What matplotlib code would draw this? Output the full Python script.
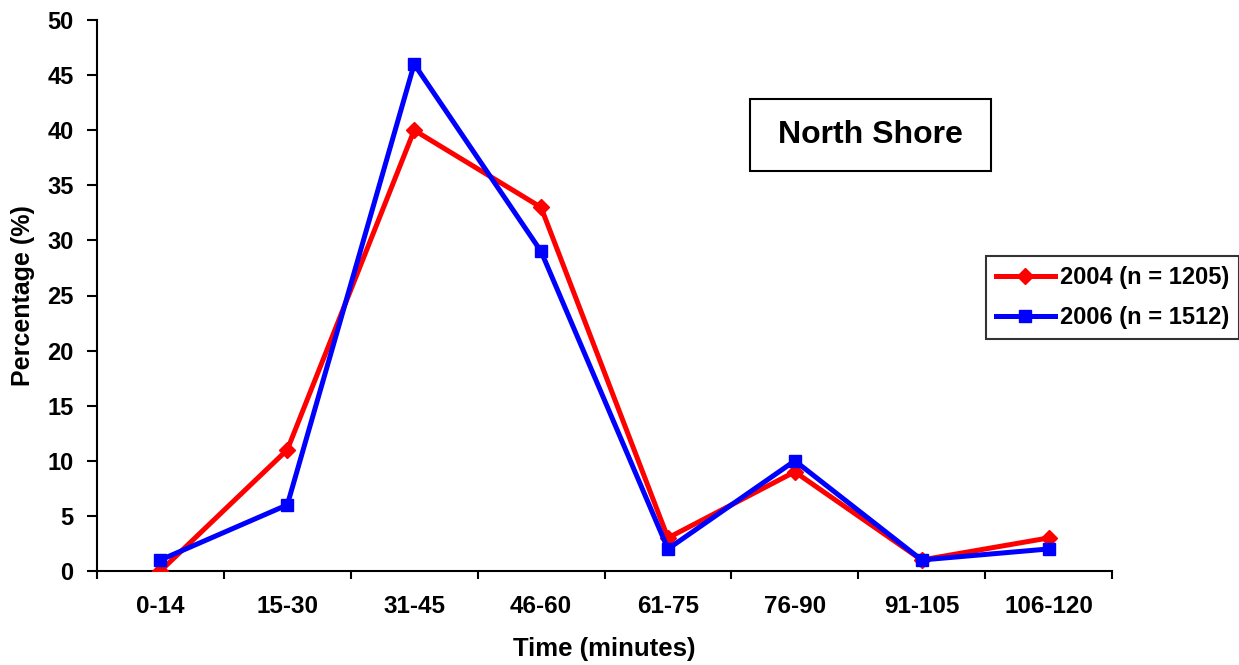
import matplotlib
matplotlib.use("Agg")
import matplotlib.pyplot as plt
from matplotlib.patches import Rectangle

categories = ["0-14", "15-30", "31-45", "46-60", "61-75", "76-90", "91-105", "106-120"]
pct_2004 = [0, 11, 40, 33, 3, 9, 1, 3]
pct_2006 = [1, 6, 46, 29, 2, 10, 1, 2]
label_2004 = "2004 (n = 1205)"
label_2006 = "2006 (n = 1512)"

plt.rcParams['font.family'] = ['Liberation Sans', 'DejaVu Sans']
plt.rcParams['font.weight'] = 'bold'

W, H = 1239, 665
fig = plt.figure(figsize=(W / 100, H / 100), dpi=100)
ax = fig.add_axes([97 / W, 1 - 571 / H, (1112 - 97) / W, (571 - 20) / H])

x = list(range(len(categories)))
ax.plot(x, pct_2004, color='#ff0000', lw=3.6, marker='D', ms=8, label=label_2004, zorder=3)
ax.plot(x, pct_2006, color='#0000ff', lw=3.6, marker='s', ms=8, label=label_2006, zorder=3)

ax.set_xlim(-0.5, 7.5)
ax.set_ylim(0, 50)
ax.set_yticks(range(0, 51, 5))
ax.set_xticks([i - 0.5 for i in range(9)])
ax.set_xticklabels([])
ax.set_xticks(x, minor=True)
ax.set_xticklabels(categories, minor=True)
ax.tick_params(axis='x', which='minor', length=0, pad=17, labelsize=17.5)
ax.tick_params(axis='x', which='major', length=6, width=1.5, direction='out')
ax.tick_params(axis='y', length=7, width=1.5, direction='out', labelsize=17, pad=10)
for lbl in ax.get_xticklabels(minor=True) + ax.get_yticklabels():
    lbl.set_fontweight('bold')

for s in ['top', 'right']:
    ax.spines[s].set_visible(False)
for s in ['left', 'bottom']:
    ax.spines[s].set_linewidth(1.5)

ax.set_xlabel("Time (minutes)", fontsize=18.5, fontweight='bold', labelpad=14)
ax.set_ylabel("Percentage (%)", fontsize=18, fontweight='bold', labelpad=9)

# title box
fig.patches.append(Rectangle((750 / W, 1 - 171 / H), 241 / W, 72 / H, transform=fig.transFigure,
                             fc='white', ec='black', lw=1.5, zorder=5))
fig.text(870.5 / W, 1 - 135 / H, "North Shore", ha='center', va='center', fontsize=23,
         fontweight='bold', zorder=6)

leg = fig.legend(loc='upper left', bbox_to_anchor=(986 / W, 1 - 256 / H), borderaxespad=0,
                 frameon=True, fancybox=False, edgecolor='black',
                 prop={'weight': 'bold', 'size': 17.0},
                 handlelength=2.5, handletextpad=0.2, borderpad=0.42, labelspacing=0.72)
leg.get_frame().set_linewidth(1.5)

fig.savefig("out.png", dpi=100)
